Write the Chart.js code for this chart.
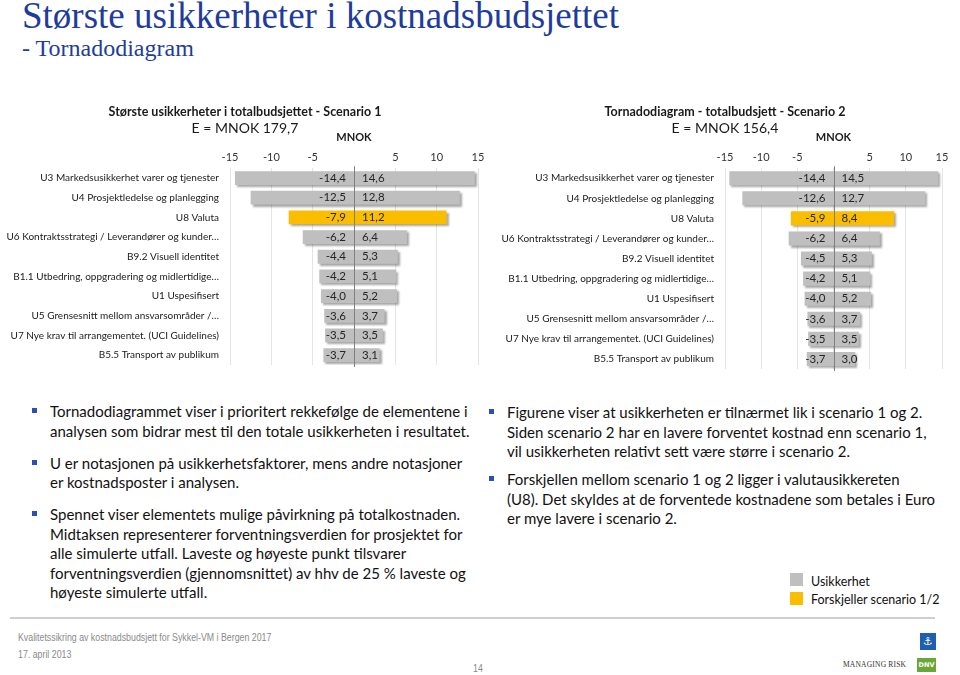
<!DOCTYPE html>
<html lang="no">
<head>
<meta charset="utf-8">
<title>Største usikkerheter i kostnadsbudsjettet</title>
<script src="https://cdn.jsdelivr.net/npm/chart.js@4"></script>
<style>
  html, body { margin: 0; padding: 0; background: #fff; }
  body { width: 960px; height: 675px; position: relative; overflow: hidden; font-family: Lato, "Open Sans", sans-serif; color: #111; }
  .abs { position: absolute; white-space: nowrap; }
  #main-title { left: 22px; top: -3px; font: 37px/1 "Liberation Serif", serif; color: #1e3c9b; }
  #sub-title { left: 22px; top: 36px; font: 24px/1 "Liberation Serif", serif; color: #1e3c9b; }
  canvas { position: absolute; }
  #c1 { left: 0; top: 95px; }
  #c2 { left: 490px; top: 95px; }
  .bullets { position: absolute; margin: 0; padding: 0; list-style: none; font-size: 15px; line-height: 19.5px; color: #111; }
  .bullets li { position: relative; white-space: nowrap; }
  .bullets li::before { content: ""; position: absolute; left: -18px; top: 6px; width: 5px; height: 5px; background: #2b4fb5; }
  #left-bullets { left: 50px; top: 402px; }
  #left-bullets li + li { margin-top: 12.5px; }
  #right-bullets { left: 507px; top: 403px; }
  #right-bullets li + li { margin-top: 8.5px; }
  .legend-box { position: absolute; width: 13px; height: 13px; }
  .legend-text { position: absolute; font-size: 12.5px; line-height: 16px; }
  #rule { position: absolute; left: 10px; top: 617px; width: 925px; height: 2px; background: #cfcfcf; }
  .footer { position: absolute; font: 10px/14px "Liberation Sans", Arial, sans-serif; color: #8a8a8a; white-space: nowrap; transform: scaleX(0.88); transform-origin: 0 0; }
  #logo-top { position: absolute; left: 920px; top: 633px; width: 16px; height: 17px; background: #1f5fb0; color: #fff; font: 11px/17px "DejaVu Sans", sans-serif; text-align: center; }
  #logo-dnv { position: absolute; left: 917px; top: 658px; width: 19px; height: 14px; background: #6aa736; color: #fff; font: bold 6.5px/14px "DejaVu Sans", sans-serif; text-align: center; }
  #managing { position: absolute; left: 843px; top: 660px; font: 7.5px/10px "Liberation Serif", serif; color: #333; letter-spacing: 0.2px; white-space: nowrap; }
</style>
</head>
<body>
<div id="main-title" class="abs">Største usikkerheter i kostnadsbudsjettet</div>
<div id="sub-title" class="abs">- Tornadodiagram</div>

<canvas id="c1" width="490" height="279"></canvas>
<canvas id="c2" width="470" height="283"></canvas>

<ul id="left-bullets" class="bullets">
  <li>Tornadodiagrammet viser i prioritert rekkefølge de elementene i<br>analysen som bidrar mest til den totale usikkerheten i resultatet.</li>
  <li>U er notasjonen på usikkerhetsfaktorer, mens andre notasjoner<br>er kostnadsposter i analysen.</li>
  <li>Spennet viser elementets mulige påvirkning på totalkostnaden.<br>Midtaksen representerer forventningsverdien for prosjektet for<br>alle simulerte utfall. Laveste og høyeste punkt tilsvarer<br>forventningsverdien (gjennomsnittet) av hhv de 25 % laveste og<br>høyeste simulerte utfall.</li>
</ul>
<ul id="right-bullets" class="bullets">
  <li>Figurene viser at usikkerheten er tilnærmet lik i scenario 1 og 2.<br>Siden scenario 2 har en lavere forventet kostnad enn scenario 1,<br>vil usikkerheten relativt sett være større i scenario 2.</li>
  <li>Forskjellen mellom scenario 1 og 2 ligger i valutausikkereten<br>(U8). Det skyldes at de forventede kostnadene som betales i Euro<br>er mye lavere i scenario 2.</li>
</ul>

<div id="legend-gray" class="legend-box" style="left:790px; top:573px;"></div>
<div class="legend-text" style="left:811px; top:574px;">Usikkerhet</div>
<div id="legend-orange" class="legend-box" style="left:790px; top:592px;"></div>
<div class="legend-text" style="left:811px; top:592px;">Forskjeller scenario 1/2</div>

<div id="rule"></div>
<div class="footer" style="left:18px; top:631px;">Kvalitetssikring av kostnadsbudsjett for Sykkel-VM i Bergen 2017</div>
<div class="footer" style="left:18px; top:648px;">17. april 2013</div>
<div class="footer" style="left:473px; top:662px;">14</div>
<div id="logo-top">⚓</div>
<div id="managing">MANAGING RISK</div>
<div id="logo-dnv">DNV</div>

<script>
const categories = [
  "U3 Markedsusikkerhet varer og tjenester",
  "U4 Prosjektledelse og planlegging",
  "U8 Valuta",
  "U6 Kontraktsstrategi / Leverandører og kunder…",
  "B9.2 Visuell identitet",
  "B1.1 Utbedring, oppgradering og midlertidige…",
  "U1 Uspesifisert",
  "U5 Grensesnitt mellom ansvarsområder /…",
  "U7 Nye krav til arrangementet. (UCI Guidelines)",
  "B5.5 Transport av publikum"
];
const scenario1Low  = [-14.4, -12.5, -7.9, -6.2, -4.4, -4.2, -4.0, -3.6, -3.5, -3.7];
const scenario1High = [ 14.6,  12.8, 11.2,  6.4,  5.3,  5.1,  5.2,  3.7,  3.5,  3.1];
const scenario2Low  = [-14.4, -12.6, -5.9, -6.2, -4.5, -4.2, -4.0, -3.6, -3.5, -3.7];
const scenario2High = [ 14.5,  12.7,  8.4,  6.4,  5.3,  5.1,  5.2,  3.7,  3.5,  3.0];
const axisTicks = [-15, -10, -5, 0, 5, 10, 15];
const highlightIndex = 2; // U8 Valuta: forskjell mellom scenarioene

const grayColor = "#bfbfbf";
const orangeColor = "#fbbd00";
document.getElementById("legend-gray").style.background = grayColor;
document.getElementById("legend-orange").style.background = orangeColor;

const fmt = (v) => v.toFixed(1).replace(".", ",");

// skygge under stolpene
const barShadow = {
  id: "barShadow",
  beforeDatasetsDraw(chart) {
    const c = chart.ctx;
    c.save();
    c.shadowColor = "rgba(0,0,0,0.35)";
    c.shadowBlur = 2;
    c.shadowOffsetX = 2;
    c.shadowOffsetY = 2;
  },
  afterDatasetsDraw(chart) {
    chart.ctx.restore();
  }
};

// verdier på hver side av midtaksen + selve midtaksen
const valueLabels = {
  id: "valueLabels",
  afterDatasetsDraw(chart) {
    const ctx = chart.ctx;
    const x0 = chart.scales.x.getPixelForValue(0);
    const area = chart.chartArea;
    const data = chart.data.datasets[0].data;
    ctx.save();
    ctx.strokeStyle = "#808080";
    ctx.lineWidth = 1;
    ctx.beginPath();
    ctx.moveTo(Math.round(x0) + 0.5, area.top - 2);
    ctx.lineTo(Math.round(x0) + 0.5, area.bottom + 2);
    ctx.stroke();
    ctx.font = "11.5px Lato";
    ctx.fillStyle = "#262626";
    ctx.textBaseline = "middle";
    chart.getDatasetMeta(0).data.forEach((bar, i) => {
      ctx.textAlign = "right";
      ctx.fillText(fmt(data[i][0]), x0 - 8, bar.y);
      ctx.textAlign = "left";
      ctx.fillText(fmt(data[i][1]), x0 + 8, bar.y);
    });
    ctx.restore();
  }
};

function makeTornado(id, title, subtitle, low, high, leftWidth, rightWidth, tickPad) {
  return new Chart(document.getElementById(id), {
    type: "bar",
    data: {
      labels: categories,
      datasets: [{
        data: low.map((lo, i) => [lo, high[i]]),
        backgroundColor: categories.map((_, i) => i === highlightIndex ? orangeColor : grayColor),
        borderWidth: 0,
        barPercentage: 0.7,
        categoryPercentage: 1
      }]
    },
    options: {
      indexAxis: "y",
      responsive: false,
      animation: false,
      layout: { padding: 0 },
      plugins: {
        legend: { display: false },
        tooltip: { enabled: false },
        title: {
          display: true, text: title, color: "#1a1a1a",
          font: { family: "Lato", size: 12.5, weight: "bold" },
          padding: { top: 9, bottom: 1 }
        },
        subtitle: {
          display: true, text: subtitle, color: "#1a1a1a",
          font: { family: "Lato", size: 14 },
          padding: { top: 0, bottom: -6 }
        }
      },
      scales: {
        x: {
          position: "top",
          min: -15, max: 15,
          afterBuildTicks: (s) => { s.ticks = axisTicks.map((v) => ({ value: v })); },
          ticks: {
            callback: (v) => v === 0 ? "" : v,
            color: "#333", padding: tickPad,
            font: { family: "Lato", size: 11 }
          },
          grid: { color: "#e4e4e4", drawTicks: false },
          border: { display: false },
          title: {
            display: true, text: "MNOK", color: "#1a1a1a",
            font: { family: "Lato", size: 11, weight: "bold" },
            padding: { top: 0, bottom: 3 }
          }
        },
        y: {
          afterFit: (s) => { s.width = leftWidth; },
          ticks: {
            autoSkip: false, color: "#1a1a1a", padding: 3,
            font: { family: "Lato", size: 10 }
          },
          grid: { display: false },
          border: { display: false }
        },
        yRight: {
          type: "category",
          position: "right",
          afterFit: (s) => { s.width = rightWidth; },
          ticks: { display: false },
          grid: { display: false },
          border: { display: false }
        }
      }
    },
    plugins: [barShadow, valueLabels]
  });
}

makeTornado("c1", "Største usikkerheter i totalbudsjettet - Scenario 1", "E = MNOK 179,7",
  scenario1Low, scenario1High, 230, 12, 4);
makeTornado("c2", "Tornadodiagram - totalbudsjett - Scenario 2", "E = MNOK 156,4",
  scenario2Low, scenario2High, 235, 18, 4);
</script>
</body>
</html>
